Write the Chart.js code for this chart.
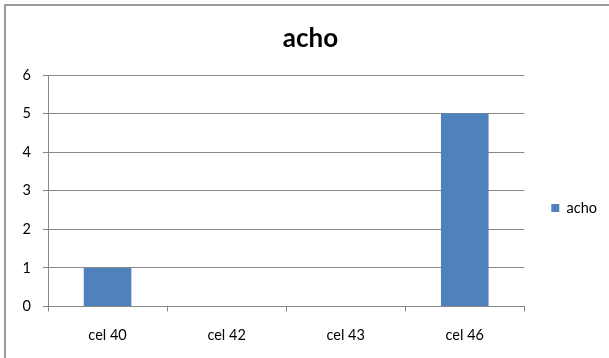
<!DOCTYPE html>
<html>
<head>
<meta charset="utf-8">
<script src="https://cdn.jsdelivr.net/npm/chart.js@4.4.1/dist/chart.umd.min.js"></script>
<style>
  html, body { margin: 0; padding: 0; background: #fff; overflow: hidden; }
  #frame {
    position: absolute; left: 4px; top: 4px; width: 700px; height: 400px;
    border-left: 2px solid #9a9a9a; border-top: 2px solid #9a9a9a;
  }
  #chart { position: absolute; left: 14px; top: 0; }
</style>
</head>
<body>
<div id="frame"></div>
<canvas id="chart" width="593" height="358"></canvas>
<script>
const categories = ['cel 40', 'cel 42', 'cel 43', 'cel 46'];
const achoValues = [1, 0, 0, 5];
const yTicks = [0, 1, 2, 3, 4, 5, 6];

const gridColor = '#878787';
const font = 'Lato';

new Chart(document.getElementById('chart'), {
  type: 'bar',
  data: {
    labels: categories,
    datasets: [
      {
        label: 'acho',
        data: achoValues,
        backgroundColor: '#4F81BD',
        borderWidth: 0,
        barPercentage: 0.4,
        categoryPercentage: 1,
      },
    ],
  },
  options: {
    responsive: false,
    animation: false,
    layout: { padding: 0 },
    scales: {
      x: {
        afterFit: s => { s.height = 51.5; },
        grid: {
          drawOnChartArea: false,
          drawTicks: true,
          tickLength: 5,
          color: gridColor,
          offset: true,
        },
        border: { color: gridColor },
        ticks: { color: '#000', padding: 15, font: { family: font, size: 14.5 } },
      },
      y: {
        min: yTicks[0],
        max: yTicks[yTicks.length - 1],
        afterFit: s => { s.width = 34; },
        afterBuildTicks: s => { s.ticks = yTicks.map(v => ({ value: v })); },
        grid: { color: gridColor, tickLength: 5 },
        border: { color: gridColor },
        ticks: { color: '#000', padding: 12, font: { family: font, size: 14.5 } },
      },
    },
    plugins: {
      title: {
        display: true,
        text: 'acho',
        color: '#000',
        font: { family: font, size: 26, weight: 'bold' },
        padding: { top: 23, bottom: 20.8 },
      },
      legend: {
        position: 'right',
        fullSize: false,
        title: { display: true, text: ' ', padding: 10, font: { size: 12 } },
        labels: {
          boxWidth: 8,
          boxHeight: 8,
          padding: 27,
          color: '#000',
          font: { family: font, size: 14.5 },
        },
      },
      tooltip: { enabled: false },
    },
  },
});
</script>
</body>
</html>
